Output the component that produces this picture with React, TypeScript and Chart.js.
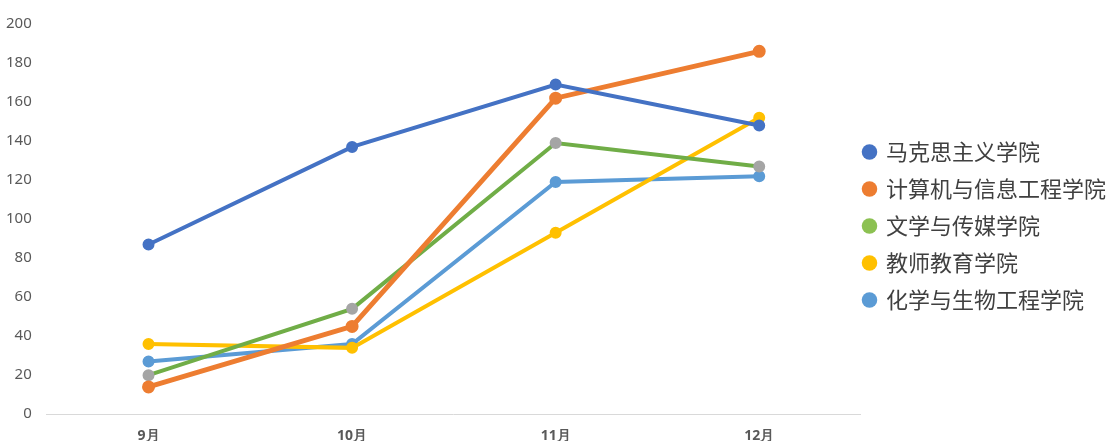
import React, { useEffect, useRef } from "react";
import { Chart, registerables } from "chart.js";

Chart.register(...registerables);

const months = ["9月", "10月", "11月", "12月"];
const seriesNames = ["马克思主义学院", "计算机与信息工程学院", "文学与传媒学院", "教师教育学院", "化学与生物工程学院"];
const marxism = [87, 137, 169, 148];
const computer = [14, 45, 162, 186];
const literature = [20, 54, 139, 127];
const education = [36, 34, 93, 152];
const chemistry = [27, 36, 119, 122];
const yTicks = [0, 20, 40, 60, 80, 100, 120, 140, 160, 180, 200];

const lineColors = ["#4472C4", "#ED7D31", "#70AD47", "#FFC000", "#5B9BD5"];
const pointColors = ["#4472C4", "#ED7D31", "#A5A5A5", "#FFC000", "#5B9BD5"];
const legendColors = ["#4472C4", "#ED7D31", "#8CC152", "#FFC000", "#5B9BD5"];
const lineWidths = [4, 5, 4, 4, 4];

const LEGEND_SHRINK = 20;
const LEGEND_SHIFT_X = 12;
const LEGEND_SHIFT_Y = 9;

const legendTweak = {
  id: "legendTweak",
  beforeLayout(chart: any) {
    const lg = chart.legend;
    if (lg && !lg._tweaked) {
      const orig = lg.fit.bind(lg);
      lg.fit = () => {
        orig();
        lg.width -= LEGEND_SHRINK;
      };
      lg._tweaked = true;
    }
  },
  afterLayout(chart: any) {
    const lg = chart.legend;
    if (!lg) return;
    lg.left -= LEGEND_SHIFT_X;
    lg.right = chart.width;
    lg.width = lg.right - lg.left;
    lg.top -= LEGEND_SHIFT_Y;
    lg.bottom -= LEGEND_SHIFT_Y;
  },
};

export default function App() {
  const ref = useRef<HTMLCanvasElement>(null);
  useEffect(() => {
    document.body.style.margin = "0";
    const values = [marxism, computer, literature, education, chemistry];
    const chart = new Chart(ref.current!, {
      type: "line",
      plugins: [legendTweak],
      data: {
        labels: months,
        datasets: seriesNames.map((name, i) => ({
          label: name,
          data: values[i],
          borderColor: lineColors[i],
          backgroundColor: pointColors[i],
          pointBackgroundColor: pointColors[i],
          pointBorderColor: pointColors[i],
          borderWidth: lineWidths[i],
          pointRadius: 4,
          tension: 0,
        })),
      },
      options: {
        animation: false,
        responsive: false,
        maintainAspectRatio: false,
        layout: { padding: { top: 13, right: 0, bottom: -16, left: -9 } },
        plugins: {
          tooltip: { enabled: false },
          legend: {
            position: "right",
            align: "center",
            labels: {
              usePointStyle: true,
              pointStyle: "circle",
              boxHeight: 11,
              boxWidth: 11,
              padding: 15,
              color: "#404040",
              font: { family: "'Noto Sans CJK SC', 'Noto Sans', sans-serif", size: 22 },
              generateLabels: () =>
                seriesNames.map((n, i) => ({
                  text: n,
                  fillStyle: legendColors[i],
                  strokeStyle: legendColors[i],
                  lineWidth: 0,
                  pointStyle: "circle",
                  hidden: false,
                  datasetIndex: i,
                  fontColor: "#404040",
                })),
            },
          },
        },
        scales: {
          x: {
            offset: true,
            grid: { display: false, drawTicks: false },
            border: { display: true, color: "#D9D9D9", width: 1 },
            ticks: {
              color: "#595959",
              padding: 13,
              font: { family: "'Noto Sans', sans-serif", size: 14, weight: "bold" },
            },
          },
          y: {
            min: 0,
            max: 200,
            afterBuildTicks: (axis) => {
              axis.ticks = yTicks.map((v) => ({ value: v }));
            },
            grid: { display: false, drawTicks: false },
            border: { display: false },
            ticks: {
              color: "#595959",
              padding: 15,
              font: { family: "'Noto Sans', sans-serif", size: 15 },
            },
          },
        },
      },
    });
    return () => chart.destroy();
  }, []);
  return (
    <div style={{ position: "absolute", left: 0, top: 0, width: 1108, height: 441, background: "#fff" }}>
      <canvas ref={ref} width={1108} height={441} style={{ width: 1108, height: 441 }} />
    </div>
  );
}
